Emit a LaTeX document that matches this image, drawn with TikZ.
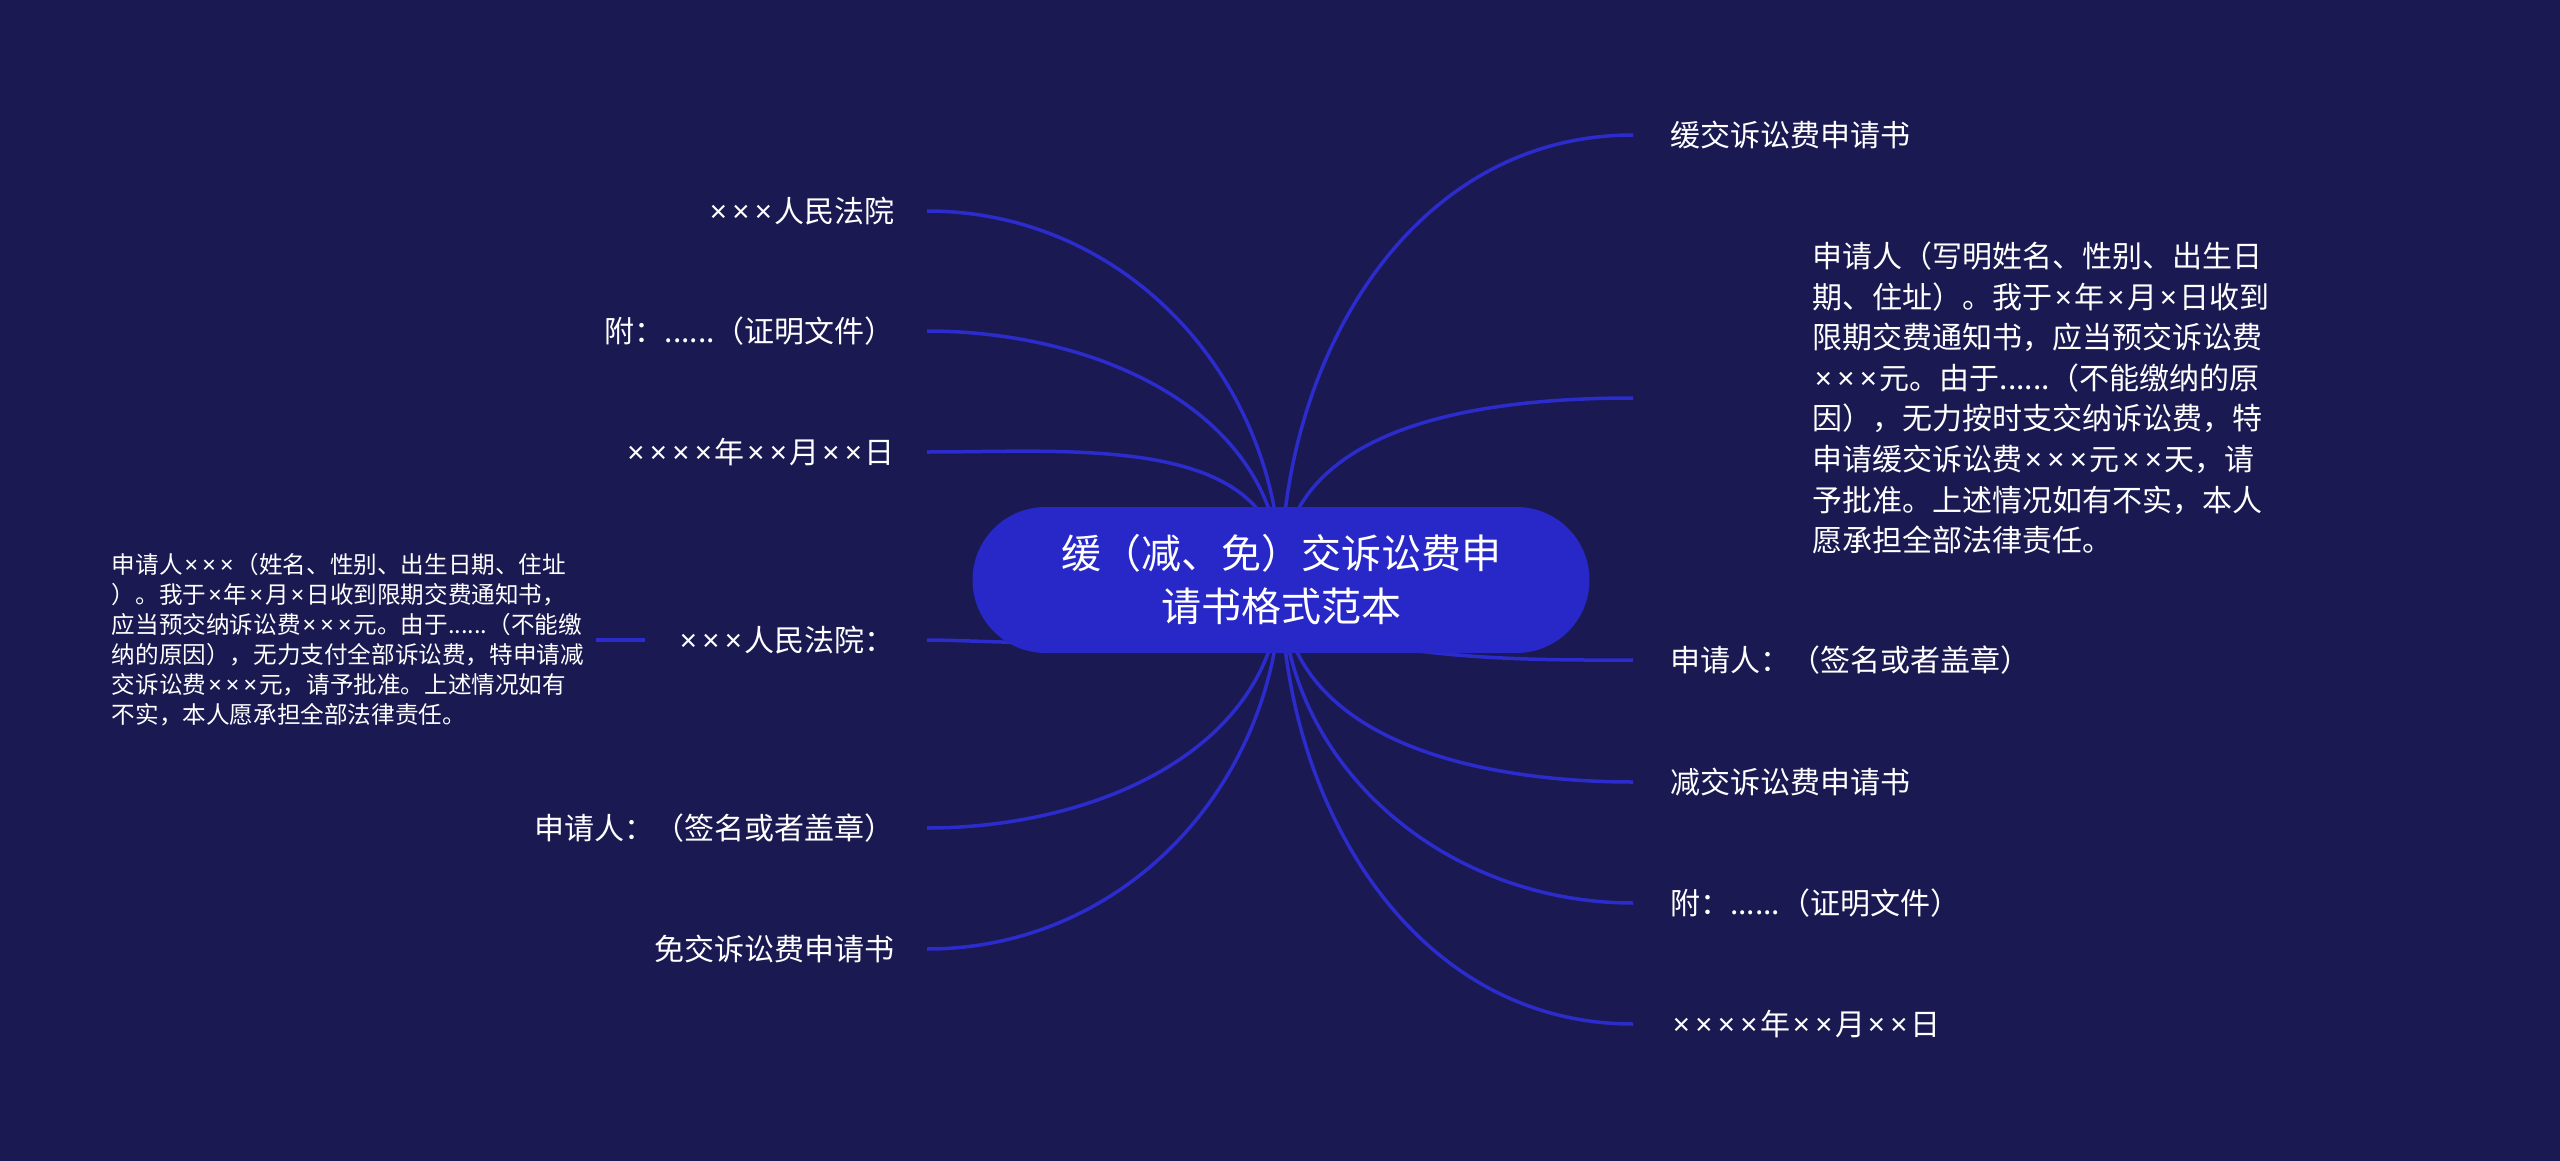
\documentclass[tikz,border=0pt]{standalone}
\usepackage{fontspec}
\setmainfont{Noto Sans CJK SC}
\newfontfamily\latinfont{Noto Sans}
\newcommand\xx{\makebox[0.75em]{\latinfont ×}}
\definecolor{bgcol}{RGB}{26,25,82}
\definecolor{rootcol}{RGB}{40,40,200}
\definecolor{linecol}{RGB}{44,44,204}
\pgfdeclarelayer{bglayer}
\pgfdeclarelayer{linelayer}
\pgfsetlayers{bglayer,linelayer,main}
\begin{document}
\begin{tikzpicture}[x=1pt,y=-1pt,
  rootbox/.style={fill=rootcol, rounded corners=73pt, minimum width=617pt, minimum height=146pt, text=white, align=center, font=\fontsize{40}{53}\selectfont, inner sep=0pt},
  rnode/.style={anchor=west, text=white, font=\fontsize{30}{40.6}\selectfont, inner xsep=37pt, inner ysep=0pt, align=left},
  lnode/.style={anchor=east, text=white, font=\fontsize{30}{40.6}\selectfont, inner xsep=32pt, inner ysep=0pt, align=right},
  smallpara/.style={anchor=east, text=white, font=\fontsize{23.6}{30}\selectfont, inner xsep=12pt, inner ysep=0pt, align=left},
  conn/.style={draw=linecol, line width=3.5pt}
]
\begin{pgfonlayer}{bglayer}
\fill[bgcol] (0,0) rectangle (2560,1161);
\end{pgfonlayer}
\useasboundingbox (0,0) rectangle (2560,1161);

\node[rootbox] (root) at (1281,580) {缓（减、免）交诉讼费申\\请书格式范本};

\node[rnode] (r1) at (1633,135) {缓交诉讼费申请书};
\node[rnode, inner xsep=179pt] (r2) at (1633,398) {申请人（写明姓名、性别、出生日\\期、住址）。我于\xx 年\xx 月\xx 日收到\\限期交费通知书，应当预交诉讼费\\\xx\xx\xx 元。由于......（不能缴纳的原\\因），无力按时支交纳诉讼费，特\\申请缓交诉讼费\xx\xx\xx 元\xx\xx 天，请\\予批准。上述情况如有不实，本人\\愿承担全部法律责任。};
\node[rnode] (r3) at (1633,660) {申请人：（签名或者盖章）};
\node[rnode] (r4) at (1633,782) {减交诉讼费申请书};
\node[rnode] (r5) at (1633,903) {附：......（证明文件）};
\node[rnode] (r6) at (1633,1024) {\xx\xx\xx\xx 年\xx\xx 月\xx\xx 日};

\node[lnode] (l1) at (927,211) {\xx\xx\xx 人民法院};
\node[lnode] (l2) at (927,331) {附：......（证明文件）};
\node[lnode] (l3) at (927,452) {\xx\xx\xx\xx 年\xx\xx 月\xx\xx 日};
\node[lnode] (l4) at (927,640) {\xx\xx\xx 人民法院：};
\node[lnode] (l5) at (927,828) {申请人：（签名或者盖章）};
\node[lnode] (l6) at (927,949) {免交诉讼费申请书};
\node[smallpara] (lp) at (596,640) {申请人\xx\xx\xx（姓名、性别、出生日期、住址\\）。我于\xx 年\xx 月\xx 日收到限期交费通知书，\\应当预交纳诉讼费\xx\xx\xx 元。由于......（不能缴\\纳的原因），无力支付全部诉讼费，特申请减\\交诉讼费\xx\xx\xx 元，请予批准。上述情况如有\\不实，本人愿承担全部法律责任。};

\begin{pgfonlayer}{linelayer}
\draw[conn] (root.center) to[out=90,in=180] (r1.west);
\draw[conn] (root.center) to[out=90,in=180] (r2.west);
\draw[conn] (root.center) to[out=270,in=180,looseness=0.6] (r3.west);
\draw[conn] (root.center) to[out=270,in=180] (r4.west);
\draw[conn] (root.center) to[out=270,in=180] (r5.west);
\draw[conn] (root.center) to[out=270,in=180] (r6.west);
\draw[conn] (root.center) to[out=90,in=0] (l1.east);
\draw[conn] (root.center) to[out=90,in=0] (l2.east);
\draw[conn] (root.center) to[out=90,in=0] (l3.east);
\draw[conn] (root.center) to[out=270,in=0,looseness=0.6] (l4.east);
\draw[conn] (root.center) to[out=270,in=0] (l5.east);
\draw[conn] (root.center) to[out=270,in=0] (l6.east);
\draw[conn] (l4.west) -- (lp.east);
\end{pgfonlayer}
\end{tikzpicture}
\end{document}
